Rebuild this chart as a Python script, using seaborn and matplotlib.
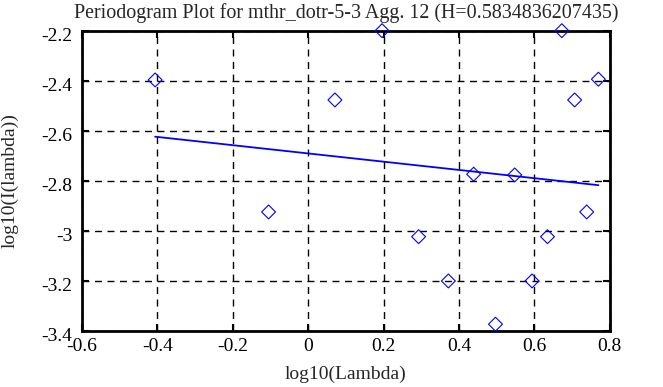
import numpy as np
import pandas as pd
import matplotlib
matplotlib.use("Agg")
import matplotlib.pyplot as plt
import matplotlib.transforms as mtransforms
import seaborn as sns

# log10(lambda) and log10(I(lambda))
log_lambda = [-0.406, -0.105, 0.071, 0.196, 0.293, 0.372, 0.439, 0.497,
              0.548, 0.594, 0.635, 0.673, 0.707, 0.739, 0.770]
log_I = [-2.397, -2.925, -2.477, -2.200, -3.024, -3.201, -2.774, -3.374,
         -2.777, -3.201, -3.024, -2.200, -2.477, -2.925, -2.394]

# fitted line end points
fit_x = [-0.406, 0.770]
fit_y = [-2.624, -2.818]

title = "Periodogram Plot for mthr_dotr-5-3 Agg. 12 (H=0.5834836207435)"

sns.set_style("ticks")
plt.rcParams["font.family"] = ["Liberation Serif", "DejaVu Serif"]
plt.rcParams["axes.unicode_minus"] = False

df = pd.DataFrame({"x": log_lambda, "y": log_I})
df_fit = pd.DataFrame({"x": fit_x, "y": fit_y})

fig = plt.figure(figsize=(6.63, 3.87), dpi=100)
ax = fig.add_axes([0.1237, 0.1455, 0.7959, 0.7752])

ax.grid(True, color="black", linestyle=(0, (5, 4)), linewidth=1.0)
ax.set_axisbelow(True)

sns.lineplot(data=df_fit, x="x", y="y", ax=ax, color="#0000ff", linewidth=1.3)
sns.scatterplot(data=df, x="x", y="y", ax=ax, marker="D", s=50,
                facecolor="none", edgecolor="#0000ff", linewidth=0.8,
                zorder=5, clip_on=False)

ax.set_xlim(-0.6, 0.8)
ax.set_ylim(-3.4, -2.2)
ax.set_xticks([-0.6, -0.4, -0.2, 0, 0.2, 0.4, 0.6, 0.8])
ax.set_xticklabels(["-0.6", "-0.4", "-0.2", "0", "0.2", "0.4", "0.6", "0.8"])
ax.set_yticks([-3.4, -3.2, -3.0, -2.8, -2.6, -2.4, -2.2])
ax.set_yticklabels(["-3.4", "-3.2", "-3", "-2.8", "-2.6", "-2.4", "-2.2"])

ax.tick_params(direction="in", length=5, width=1.5, top=True, right=True,
               labelsize=14, colors="black")
ax.tick_params(axis="x", pad=5)
ax.tick_params(axis="y", pad=7)
for sp in ax.spines.values():
    sp.set_visible(True)
    sp.set_linewidth(2)
    sp.set_color("black")

# nudge y tick labels down a little, like the original
shift = mtransforms.ScaledTranslation(0, -3 / 72, fig.dpi_scale_trans)
for lab in ax.get_yticklabels():
    lab.set_transform(lab.get_transform() + shift)

ax.set_xlabel("log10(Lambda)", fontsize=14)
ax.set_ylabel("log10(I(lambda))", fontsize=14)
ax.xaxis.set_label_coords(0.5, -0.115)
ax.yaxis.set_label_coords(-0.121, 0.5)
ax.set_title(title, fontsize=14.4, pad=9)

fig.savefig("out.png", dpi=100)
